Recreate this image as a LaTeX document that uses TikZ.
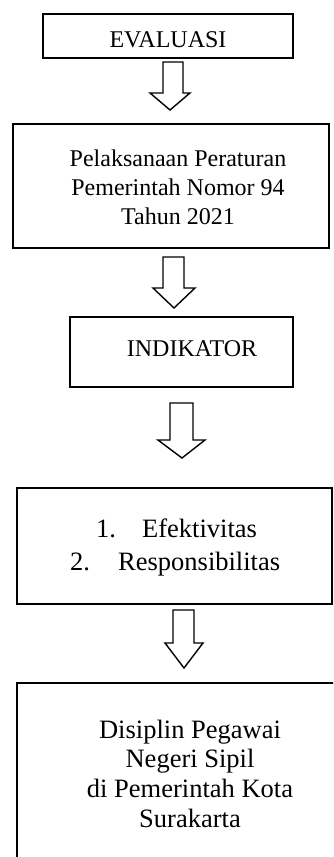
\documentclass[tikz,border=0pt]{standalone}
\usepackage{fontspec}
\setmainfont{Liberation Serif}
\begin{document}
\begin{tikzpicture}[x=1pt,y=-1pt,
  boxline/.style={draw=black,line width=2pt,rectangle,inner sep=0pt,outer sep=0pt},
  blockarrow/.style={draw=black,line width=1.4pt,line join=miter,fill=white},
  txtA/.style={font=\fontsize{24}{29}\selectfont,anchor=base,inner sep=0pt},
  txtB/.style={font=\fontsize{26.5}{30}\selectfont,anchor=base,inner sep=0pt},
  txtBw/.style={font=\fontsize{26.5}{30}\selectfont,anchor=base west,inner sep=0pt}]
\useasboundingbox (0,0) rectangle (333,857);
\clip (0,0) rectangle (333,857);
% boxes
\node[boxline,minimum width=250pt,minimum height=44pt] (b1) at (168,36) {};
\node[txtA] (t1) at (168,47) {EVALUASI};

\node[boxline,minimum width=316pt,minimum height=124pt] (b2) at (171,186) {};
\node[txtA] (t2a) at (178,166) {Pelaksanaan Peraturan};
\node[txtA] (t2b) at (178,195) {Pemerintah Nomor 94};
\node[txtA] (t2c) at (178,224) {Tahun 2021};

\node[boxline,minimum width=223pt,minimum height=70pt] (b3) at (181.5,352) {};
\node[txtA] (t3) at (192,356) {INDIKATOR};

\node[boxline,minimum width=315pt,minimum height=116pt] (b4) at (174.5,546) {};
\node[txtBw] (n1) at (96,537) {1.};
\node[txtBw] (t4a) at (142,537) {Efektivitas};
\node[txtBw] (n2) at (70,570) {2.};
\node[txtBw] (t4b) at (118,570) {Responsibilitas};

\node[boxline,minimum width=328pt,minimum height=197pt] (b5) at (181,781.5) {};
\node[txtB] (t5a) at (190,738) {Disiplin Pegawai};
\node[txtB] (t5b) at (190,767) {Negeri Sipil};
\node[txtB] (t5c) at (190,797) {di Pemerintah Kota};
\node[txtB] (t5d) at (190,827) {Surakarta};

% block arrows
\path[blockarrow] (163,62) -- (183,62) -- (183,93) -- (190,93) -- (170,110) -- (150,93) -- (163,93) -- cycle;
\path[blockarrow] (163,257) -- (184,257) -- (184,288) -- (195,288) -- (174,308) -- (153,288) -- (163,288) -- cycle;
\path[blockarrow] (170,403) -- (193,403) -- (193,440) -- (205,440) -- (182,458) -- (158,440) -- (170,440) -- cycle;
\path[blockarrow] (173,610) -- (194,610) -- (194,643) -- (203,643) -- (184,668) -- (165,643) -- (173,643) -- cycle;
\end{tikzpicture}
\end{document}
